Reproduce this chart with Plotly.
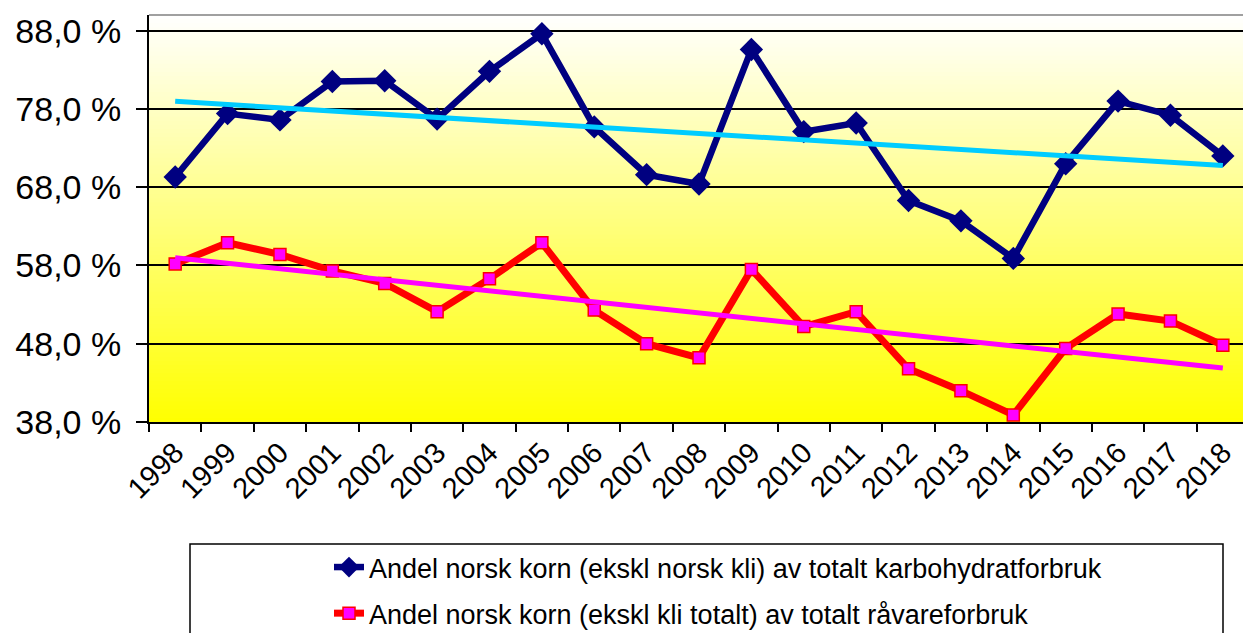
import numpy as np
import plotly.graph_objects as go

# ---------------- data ----------------
years = ["1998", "1999", "2000", "2001", "2002", "2003", "2004", "2005", "2006", "2007",
         "2008", "2009", "2010", "2011", "2012", "2013", "2014", "2015", "2016", "2017", "2018"]

karbohydrat = [69.3, 77.4, 76.6, 81.5, 81.6, 76.7, 82.8, 87.6, 75.7, 69.6,
               68.4, 85.6, 75.1, 76.2, 66.3, 63.7, 58.9, 71.0, 79.0, 77.2, 72.0]

raavare = [58.2, 60.9, 59.4, 57.3, 55.7, 52.1, 56.3, 60.9, 52.3, 48.0,
           46.2, 57.5, 50.2, 52.1, 44.8, 42.0, 38.9, 47.4, 51.8, 50.9, 47.8]

y_tick_vals = [38, 48, 58, 68, 78, 88]
y_tick_text = ["38,0 %", "48,0 %", "58,0 %", "68,0 %", "78,0 %", "88,0 %"]

name_karbo = "Andel norsk korn (ekskl norsk kli) av totalt karbohydratforbruk"
name_raav = "Andel norsk korn (ekskl kli totalt) av totalt råvareforbruk"

# linear trendlines (least squares, as Excel does)
idx = np.arange(len(years))
k_slope, k_icpt = np.polyfit(idx, karbohydrat, 1)
r_slope, r_icpt = np.polyfit(idx, raavare, 1)
trend_karbo = k_icpt + k_slope * idx
trend_raav = r_icpt + r_slope * idx

FONT = "Liberation Sans, Arial, sans-serif"

fig = go.Figure()

fig.add_trace(go.Scatter(
    x=years, y=karbohydrat, name=name_karbo, mode="lines+markers",
    line=dict(color="#000080", width=6.5),
    marker=dict(symbol="diamond", size=18, color="#000080"),
    legendgroup="a",
))
fig.add_trace(go.Scatter(
    x=years, y=raavare, name=name_raav, mode="lines+markers",
    line=dict(color="#FF0000", width=7),
    marker=dict(symbol="square", size=12, color="#FF00FF",
                line=dict(color="#FF0000", width=1.5)),
    legendgroup="b",
))
fig.add_trace(go.Scatter(
    x=years, y=trend_karbo, mode="lines", showlegend=False,
    line=dict(color="#00CCFF", width=5), hoverinfo="skip",
))
fig.add_trace(go.Scatter(
    x=years, y=trend_raav, mode="lines", showlegend=False,
    line=dict(color="#FF00FF", width=5), hoverinfo="skip",
))

# gradient background (white at top -> yellow at bottom)
shapes = []
N = 100
for i in range(N):
    y0 = i / N
    y1 = (i + 1) / N
    t = (y0 + y1) / 2  # 0 bottom, 1 top
    b = int(round(255 * t))
    shapes.append(dict(type="rect", xref="paper", yref="paper",
                       x0=0, x1=1, y0=y0, y1=y1 + 0.002,
                       fillcolor=f"rgb(255,255,{b})", line=dict(width=0),
                       layer="below"))
# top border of plot area
shapes.append(dict(type="line", xref="paper", yref="paper", x0=0, x1=1, y0=1, y1=1,
                   line=dict(color="#A0A0A0", width=2), layer="above"))
# legend box
shapes.append(dict(type="rect", xref="paper", yref="paper",
                   x0=(190 - 149) / 1094, x1=(1223 - 149) / 1094,
                   y0=(422 - 660) / 407, y1=(422 - 544) / 407,
                   line=dict(color="black", width=1.5), fillcolor="rgba(0,0,0,0)",
                   layer="above"))

fig.update_layout(
    width=1243, height=633, autosize=False,
    margin=dict(l=149, r=0, t=15, b=211, pad=0),
    paper_bgcolor="white", plot_bgcolor="white",
    font=dict(family=FONT, color="black"),
    shapes=shapes,
    showlegend=True,
    legend=dict(
        xref="paper", yref="container",
        x=(329 - 149) / 1094, y=(633 - 543) / 633,
        xanchor="left", yanchor="top",
        bgcolor="rgba(0,0,0,0)", borderwidth=0,
        font=dict(family=FONT, size=27, color="black"),
        traceorder="grouped", tracegroupgap=8,
        itemwidth=30,
    ),
    xaxis=dict(
        type="category", range=[-0.5, 20.385],
        tickson="boundaries", ticks="outside", ticklen=8, tickwidth=2, tickcolor="black",
        showline=True, linecolor="black", linewidth=2,
        showgrid=False, zeroline=False,
        tickangle=-45, tickfont=dict(family=FONT, size=29, color="black"),
    ),
    yaxis=dict(
        range=[38, 90], tickvals=y_tick_vals, ticktext=y_tick_text,
        ticks="outside", ticklen=11, tickwidth=2, tickcolor="black",
        showline=True, linecolor="black", linewidth=2,
        showgrid=True, gridcolor="black", gridwidth=1.5,
        zeroline=False,
        tickfont=dict(family=FONT, size=34, color="black"),
        ticklabelstandoff=8,
    ),
)

fig.write_html("out.html", config={"displayModeBar": False},
               post_script="document.body.style.margin='0';document.body.style.overflow='hidden';")
